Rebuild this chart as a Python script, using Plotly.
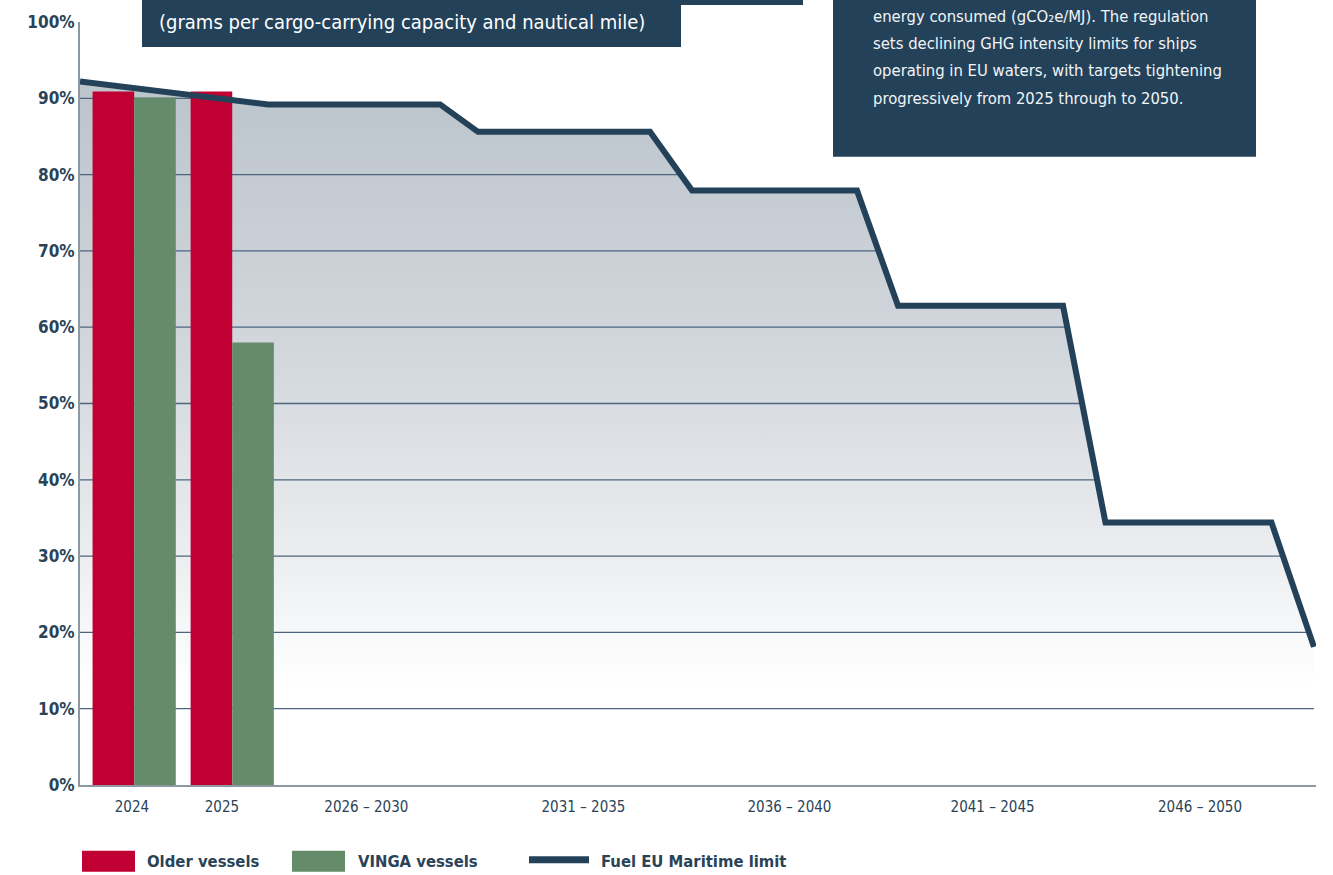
import numpy as np
import plotly.graph_objects as go

# ---------------- data ----------------
groups = ["2024", "2025"]
older_vessels = [90.9, 90.9]
vinga_vessels = [90.1, 58.0]

# Fuel EU Maritime limit (x in period-index units, y in %)
limit_x = [0.0, 0.913, 1.748, 1.932, 2.767, 2.971, 3.772, 3.971, 4.772, 4.978, 5.784, 5.99]
limit_y = [92.2, 89.2, 89.2, 85.6, 85.6, 77.9, 77.9, 62.8, 62.8, 34.4, 34.4, 18.1]

tick_labels = ["2024", "2025", "2026 – 2030", "2031 – 2035", "2036 – 2040", "2041 – 2045", "2046 – 2050"]
tick_pos = [0.252, 0.689, 1.390, 2.444, 3.444, 4.430, 5.437]
y_ticks = [0, 10, 20, 30, 40, 50, 60, 70, 80, 90, 100]
grid_levels = [10, 20, 30, 40, 50, 60, 70, 80, 90]

group_pos = [0.263, 0.739]
bar_w = 0.202

box_text_lines = [
    "energy consumed (gCO₂e/MJ). The regulation",
    "sets declining GHG intensity limits for ships",
    "operating in EU waters, with targets tightening",
    "progressively from 2025 through to 2050.",
]
subtitle = "(grams per cargo-carrying capacity and nautical mile)"

# ---------------- styles ----------------
FONT = "DejaVu Sans Condensed, Roboto, sans-serif"
NAVY = "#23425a"
TXT = "#2a4357"
RED = "#c00032"
GREEN = "#658c6a"
GRID = "#4d6680"
AXIS = "#8c99a4"

W, H = 1333, 875
L, R, T, B = 80, 17, 20, 90
pw, ph = W - L - R, H - T - B


def px(xp):
    return (xp - L) / pw


def py(yp):
    return (H - B - yp) / ph


fig = go.Figure()

# gradient fill under the limit line (base subplot)
fig.add_trace(go.Scatter(
    x=limit_x, y=limit_y, mode="lines", line=dict(width=0, color="rgba(0,0,0,0)"),
    fill="tozeroy",
    fillgradient=dict(type="vertical",
                      colorscale=[[0, "#ffffff"], [0.14, "#ffffff"], [0.3, "#eef0f2"],
                                  [0.6, "#d3d8dd"], [1, "#bcc4cc"]]),
    hoverinfo="skip", showlegend=False, xaxis="x", yaxis="y"))

# gridlines clipped to the filled region
xs_rev = np.array(limit_x)[::-1]
ys_rev = np.array(limit_y)[::-1]
gx, gy = [], []
for lv in grid_levels:
    if lv < min(limit_y):
        xe = limit_x[-1]
    else:
        xe = float(np.interp(lv, ys_rev, xs_rev))
    gx += [0, xe, None]
    gy += [lv, lv, None]
fig.add_trace(go.Scatter(x=gx, y=gy, mode="lines", line=dict(color=GRID, width=1.3),
                         hoverinfo="skip", showlegend=False, xaxis="x", yaxis="y"))

# bars (overlay subplot, above fill)
fig.add_trace(go.Bar(x=group_pos, y=older_vessels, name="Older vessels", width=bar_w,
                     offset=-bar_w, marker=dict(color=RED, line=dict(width=0)),
                     xaxis="x2", yaxis="y2", showlegend=False))
fig.add_trace(go.Bar(x=group_pos, y=vinga_vessels, name="VINGA vessels", width=bar_w,
                     offset=0, marker=dict(color=GREEN, line=dict(width=0)),
                     xaxis="x2", yaxis="y2", showlegend=False))

# limit line
fig.add_trace(go.Scatter(x=limit_x, y=limit_y, mode="lines", name="Fuel EU Maritime limit",
                         line=dict(color=NAVY, width=6), xaxis="x2", yaxis="y2",
                         showlegend=False))

shapes = []
annotations = []

# subtitle box (cropped at top)
shapes.append(dict(type="rect", xref="paper", yref="paper", x0=px(142), x1=px(681),
                   y0=py(45), y1=py(-5), fillcolor=NAVY, line=dict(width=0), layer="above"))
shapes.append(dict(type="rect", xref="paper", yref="paper", x0=px(681), x1=px(803),
                   y0=py(3), y1=py(-5), fillcolor=NAVY, line=dict(width=0), layer="above"))
annotations.append(dict(text=subtitle, xref="paper", yref="paper", x=px(157), y=py(20),
                        xanchor="left", yanchor="middle", showarrow=False,
                        font=dict(family=FONT, size=20, color="#ffffff")))

# info box (cropped at top)
shapes.append(dict(type="rect", xref="paper", yref="paper", x0=px(833), x1=px(1256),
                   y0=py(155), y1=py(-5), fillcolor=NAVY, line=dict(width=0), layer="above"))
for i, line in enumerate(box_text_lines):
    annotations.append(dict(text=line, xref="paper", yref="paper", x=px(871), y=py(14 + 27.5 * i),
                            xanchor="left", yanchor="middle", showarrow=False,
                            font=dict(family=FONT, size=16.5, color="#f2f4f6")))

# manual legend
leg_y = 862
shapes.append(dict(type="rect", xref="paper", yref="paper", x0=px(82), x1=px(135),
                   y0=py(872), y1=py(851), fillcolor=RED, line=dict(width=0)))
annotations.append(dict(text="<b>Older vessels</b>", xref="paper", yref="paper", x=px(145), y=py(leg_y),
                        xanchor="left", yanchor="middle", showarrow=False,
                        font=dict(family=FONT, size=16.5, color=TXT)))
shapes.append(dict(type="rect", xref="paper", yref="paper", x0=px(292), x1=px(345),
                   y0=py(872), y1=py(851), fillcolor=GREEN, line=dict(width=0)))
annotations.append(dict(text="<b>VINGA vessels</b>", xref="paper", yref="paper", x=px(356), y=py(leg_y),
                        xanchor="left", yanchor="middle", showarrow=False,
                        font=dict(family=FONT, size=16.5, color=TXT)))
shapes.append(dict(type="line", xref="paper", yref="paper", x0=px(529), x1=px(589),
                   y0=py(860), y1=py(860), line=dict(color=NAVY, width=7)))
annotations.append(dict(text="<b>Fuel EU Maritime limit</b>", xref="paper", yref="paper", x=px(599), y=py(leg_y),
                        xanchor="left", yanchor="middle", showarrow=False,
                        font=dict(family=FONT, size=16.5, color=TXT)))

fig.update_layout(
    width=W, height=H,
    margin=dict(l=L, r=R, t=T, b=B, pad=0),
    paper_bgcolor="#ffffff", plot_bgcolor="#ffffff",
    showlegend=False,
    shapes=shapes, annotations=annotations,
    xaxis=dict(range=[0, 6], tickmode="array", tickvals=tick_pos, ticktext=tick_labels,
               showgrid=False, zeroline=False, showline=True, linecolor=AXIS, linewidth=2,
               ticks="", ticklabelstandoff=7,
               tickfont=dict(family=FONT, size=15, color=TXT), fixedrange=True),
    yaxis=dict(range=[0, 100], tickmode="array", tickvals=y_ticks,
               ticktext=[f"<b>{v}%</b>" for v in y_ticks],
               showgrid=False, zeroline=False, showline=True, linecolor=AXIS, linewidth=2,
               ticks="", ticklabelstandoff=0,
               tickfont=dict(family=FONT, size=17, color=TXT), fixedrange=True),
    xaxis2=dict(range=[0, 6], overlaying="x", visible=False, fixedrange=True),
    yaxis2=dict(range=[0, 100], overlaying="y", visible=False, fixedrange=True),
)

fig.write_html("out.html")
